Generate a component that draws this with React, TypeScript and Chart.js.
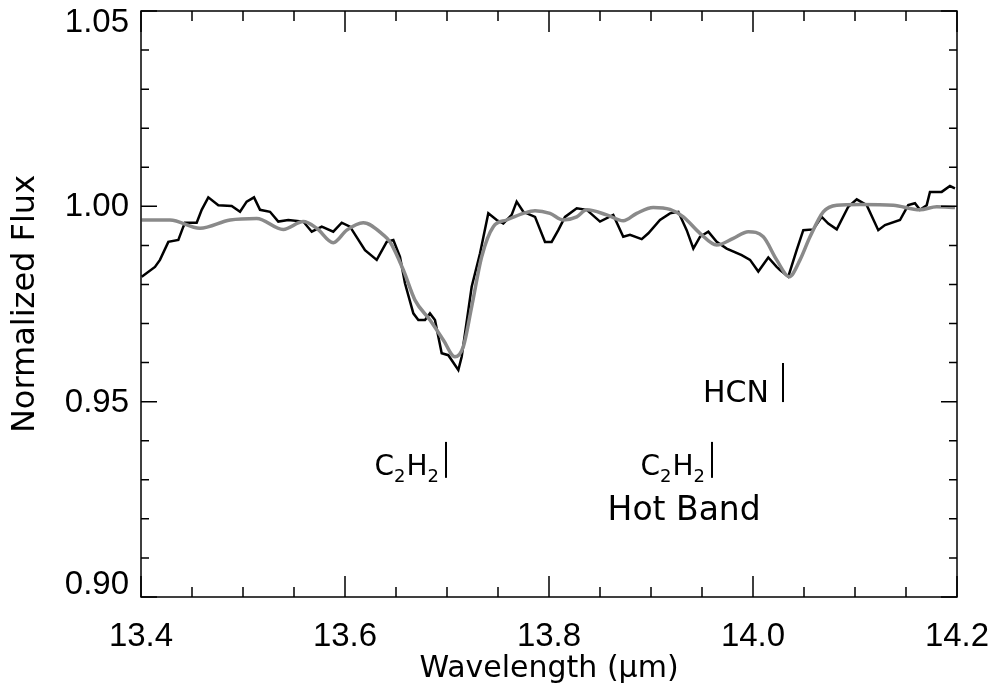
import React, { useEffect, useRef } from "react";
import { Chart, registerables } from "chart.js";

Chart.register(...registerables);

// Observed spectrum (black)
const obsWave = [
  13.4007, 13.4137, 13.4186, 13.4268, 13.4366, 13.4415, 13.4431, 13.4546, 13.4595, 13.466,
  13.4758, 13.4889, 13.4971, 13.5036, 13.5108, 13.5167, 13.5265, 13.5346, 13.5444, 13.5591,
  13.5674, 13.5772, 13.5885, 13.5968, 13.6049, 13.6196, 13.6311, 13.6409, 13.6474, 13.6539,
  13.6588, 13.667, 13.6719, 13.6784, 13.6833, 13.6882, 13.6948, 13.7013, 13.7111, 13.7144,
  13.7242, 13.7324, 13.7405, 13.7487, 13.7552, 13.7634, 13.7683, 13.7748, 13.7863, 13.7961,
  13.8026, 13.8091, 13.8157, 13.8272, 13.837, 13.85, 13.863, 13.8728, 13.8794, 13.8909,
  13.8974, 13.9088, 13.9186, 13.9268, 13.935, 13.9415, 13.948, 13.9562, 13.9644, 13.9742,
  13.9889, 13.9971, 14.0052, 14.015, 14.0232, 14.0265, 14.0346, 14.0428, 14.0493, 14.0591,
  14.0674, 14.0738, 14.0821, 14.0934, 14.1017, 14.1115, 14.1228, 14.1294, 14.1441, 14.1522,
  14.1588, 14.1637, 14.1703, 14.1735, 14.185, 14.1931, 14.198,
];
const obsFlux = [
  0.982, 0.9845, 0.9863, 0.9909, 0.9914, 0.9948, 0.9958, 0.9958, 0.9991, 1.0023,
  1.0003, 1.0001, 0.9986, 1.0012, 1.0023, 0.9991, 0.9986, 0.9961, 0.9965, 0.9961,
  0.9935, 0.9948, 0.9935, 0.9958, 0.9948, 0.9888, 0.9863, 0.9909, 0.9914, 0.9871,
  0.9803, 0.9726, 0.9709, 0.9709, 0.9726, 0.9709, 0.9624, 0.9619, 0.9581, 0.9615,
  0.9794, 0.988, 0.9982, 0.9965, 0.9956, 0.9978, 1.0012, 0.9986, 0.9973, 0.9909,
  0.9909, 0.9939, 0.9973, 0.9995, 0.9991, 0.9961, 0.9978, 0.9922, 0.9927, 0.9916,
  0.9931, 0.9965, 0.9982, 0.9986, 0.9939, 0.9892, 0.9922, 0.9935, 0.9909, 0.9892,
  0.9875, 0.9863, 0.9833, 0.9869, 0.9845, 0.9837, 0.982, 0.9888, 0.9939, 0.9941,
  0.9973, 0.9956, 0.9941, 0.9999, 1.0018, 1.0003, 0.9939, 0.9952, 0.9965, 1.0003,
  1.0008, 0.9991, 1.0003, 1.0037, 1.0037, 1.0052, 1.0046,
];

// Model spectrum (gray)
const modelWave = [
  13.4007, 13.4284, 13.4578, 13.4873, 13.5134, 13.5395, 13.5591, 13.5723, 13.5885, 13.6017,
  13.6179, 13.6375, 13.6441, 13.6572, 13.6686, 13.6833, 13.6964, 13.7078, 13.716, 13.7242,
  13.734, 13.7454, 13.7585, 13.7748, 13.7863, 13.801, 13.814, 13.8272, 13.837, 13.8566,
  13.8728, 13.886, 13.9022, 13.9186, 13.9317, 13.948, 13.9644, 13.9807, 13.9954, 14.0101,
  14.0232, 14.0356, 14.0461, 14.0559, 14.0689, 14.0821, 14.1049, 14.1375, 14.1637, 14.1801,
  14.198,
];
const modelFlux = [
  0.9965, 0.9965, 0.9944, 0.9965, 0.9969, 0.9941, 0.9961, 0.9944, 0.9907, 0.9939,
  0.9958, 0.9927, 0.9909, 0.9837, 0.976, 0.9709, 0.9658, 0.9615, 0.9641, 0.9743,
  0.9871, 0.9948, 0.9965, 0.9982, 0.9989, 0.9982, 0.9965, 0.9973, 0.9991, 0.9978,
  0.9963, 0.9982, 0.9997, 0.9992, 0.9973, 0.9931, 0.9901, 0.9918, 0.9935, 0.9922,
  0.9863, 0.982, 0.9863, 0.9922, 0.9986, 1.0003, 1.0005, 1.0003, 0.9991, 0.9999,
  0.9997,
];

// Feature markers: label pieces [text, isSubscript]
const markerParts: [string, boolean][][] = [
  [["C", false], ["2", true], ["H", false], ["2", true]],
  [["C", false], ["2", true], ["H", false], ["2", true]],
  [["HCN", false]],
];
const markerWave = [13.699, 13.9598, 14.0294];
const markerTop = [0.9397, 0.9397, 0.9599];
const markerBottom = [0.9305, 0.9305, 0.9499];
const markerBaseline = [0.9312, 0.9312, 0.9499];
const markerFontSize = [28, 28, 30];
const markerGap = [6, 6, 14];
const subLabelText = "Hot Band";
const subLabelWave = 13.9325;
const subLabelFlux = 0.9197;

const xTicks = { min: 13.4, max: 14.2, step: 0.2, minor: 0.05 };
const yTicks = { min: 0.9, max: 1.05, step: 0.05, minor: 0.01 };

const FONT = '"DejaVu Sans"';
const TICK_FONT = '33px "Liberation Sans"';

const framePlugin = {
  id: "frameTicks",
  afterDatasetsDraw(chart: any) {
    const { ctx, chartArea, scales } = chart;
    const { left, right, top, bottom } = chartArea;
    const x = scales.x;
    const y = scales.y;
    ctx.save();
    ctx.strokeStyle = "#000";
    ctx.lineWidth = 1.5;
    ctx.strokeRect(left, top, right - left, bottom - top);
    const nx = Math.round((xTicks.max - xTicks.min) / xTicks.minor);
    for (let i = 0; i <= nx; i++) {
      const px = x.getPixelForValue(xTicks.min + i * xTicks.minor);
      const len = i % 4 === 0 ? 21 : 10;
      ctx.beginPath();
      ctx.moveTo(px, bottom);
      ctx.lineTo(px, bottom - len);
      ctx.moveTo(px, top);
      ctx.lineTo(px, top + len);
      ctx.stroke();
    }
    const ny = Math.round((yTicks.max - yTicks.min) / yTicks.minor);
    for (let j = 0; j <= ny; j++) {
      const py = y.getPixelForValue(yTicks.min + j * yTicks.minor);
      const len = j % 5 === 0 ? 16 : 8;
      ctx.beginPath();
      ctx.moveTo(left, py);
      ctx.lineTo(left + len, py);
      ctx.moveTo(right, py);
      ctx.lineTo(right - len, py);
      ctx.stroke();
    }
    // y tick labels (kept inside the axis span, as in the original)
    ctx.fillStyle = "#000";
    ctx.font = TICK_FONT;
    ctx.textAlign = "right";
    ctx.textBaseline = "middle";
    for (const t of y.ticks) {
      let py = y.getPixelForValue(t.value);
      py = Math.min(Math.max(py, top + 11), bottom - 13);
      ctx.fillText(Number(t.value).toFixed(2), left - 12, py + 1);
    }
    // markers
    ctx.lineWidth = 2;
    ctx.textBaseline = "alphabetic";
    ctx.textAlign = "left";
    for (let k = 0; k < markerParts.length; k++) {
      const px = x.getPixelForValue(markerWave[k]);
      ctx.beginPath();
      ctx.moveTo(px, y.getPixelForValue(markerTop[k]));
      ctx.lineTo(px, y.getPixelForValue(markerBottom[k]));
      ctx.stroke();
      const fs = markerFontSize[k];
      const subFs = Math.round(fs * 0.66);
      const parts = markerParts[k];
      let total = 0;
      const widths = parts.map(([t, sub]) => {
        ctx.font = `${sub ? subFs : fs}px ${FONT}`;
        const w = ctx.measureText(t).width + (sub ? 1 : 0);
        total += w;
        return w;
      });
      let cx = px - markerGap[k] - total;
      const base = y.getPixelForValue(markerBaseline[k]);
      parts.forEach(([t, sub], idx) => {
        ctx.font = `${sub ? subFs : fs}px ${FONT}`;
        ctx.fillText(t, cx, sub ? base + 7 : base);
        cx += widths[idx];
      });
    }
    ctx.font = `33px ${FONT}`;
    ctx.textAlign = "center";
    ctx.fillText(subLabelText, x.getPixelForValue(subLabelWave), y.getPixelForValue(subLabelFlux));
    ctx.restore();
  },
};

export default function App() {
  const ref = useRef<HTMLCanvasElement | null>(null);
  useEffect(() => {
    const obs = obsWave.map((w, i) => ({ x: w, y: obsFlux[i] }));
    const model = modelWave.map((w, i) => ({ x: w, y: modelFlux[i] }));
    const chart = new Chart(ref.current as HTMLCanvasElement, {
      type: "line",
      data: {
        datasets: [
          {
            data: obs,
            borderColor: "#000",
            borderWidth: 2.5,
            pointRadius: 0,
            tension: 0,
            order: 1,
          },
          {
            data: model,
            borderColor: "#8a8a8a",
            borderWidth: 3.5,
            pointRadius: 0,
            cubicInterpolationMode: "monotone",
            order: 0,
          },
        ],
      },
      options: {
        animation: false,
        responsive: true,
        maintainAspectRatio: false,
        layout: { padding: { top: 11, right: 41, left: 0, bottom: 0 } },
        plugins: { legend: { display: false }, tooltip: { enabled: false } },
        scales: {
          x: {
            type: "linear",
            min: xTicks.min,
            max: xTicks.max,
            grid: { display: false, drawTicks: false },
            border: { display: false },
            ticks: {
              stepSize: xTicks.step,
              autoSkip: false,
              maxRotation: 0,
              color: "#000",
              padding: 20,
              font: { family: "Liberation Sans", size: 33 },
              callback: (v: any) => Number(v).toFixed(1),
            },
            title: {
              display: true,
              text: "Wavelength (μm)",
              color: "#000",
              font: { family: "DejaVu Sans", size: 30 },
              padding: { top: 0, bottom: 6 },
            },
            afterFit: (s: any) => {
              s.height = 96;
              s.paddingLeft = 0;
              s.paddingRight = 0;
            },
          },
          y: {
            type: "linear",
            min: yTicks.min,
            max: yTicks.max,
            grid: { display: false, drawTicks: false },
            border: { display: false },
            ticks: {
              stepSize: yTicks.step,
              display: false,
            },
            title: {
              display: true,
              text: "Normalized Flux",
              color: "#000",
              font: { family: "DejaVu Sans", size: 32 },
              padding: { top: 6, bottom: 0 },
            },
            afterFit: (s: any) => {
              s.width = 141;
              s.paddingTop = 0;
              s.paddingBottom = 0;
            },
          },
        },
      },
      plugins: [framePlugin],
    });
    return () => chart.destroy();
  }, []);
  return (
    <div style={{ position: "fixed", left: 0, top: 0, width: 998, height: 693, background: "#fff" }}>
      <canvas ref={ref} />
    </div>
  );
}
